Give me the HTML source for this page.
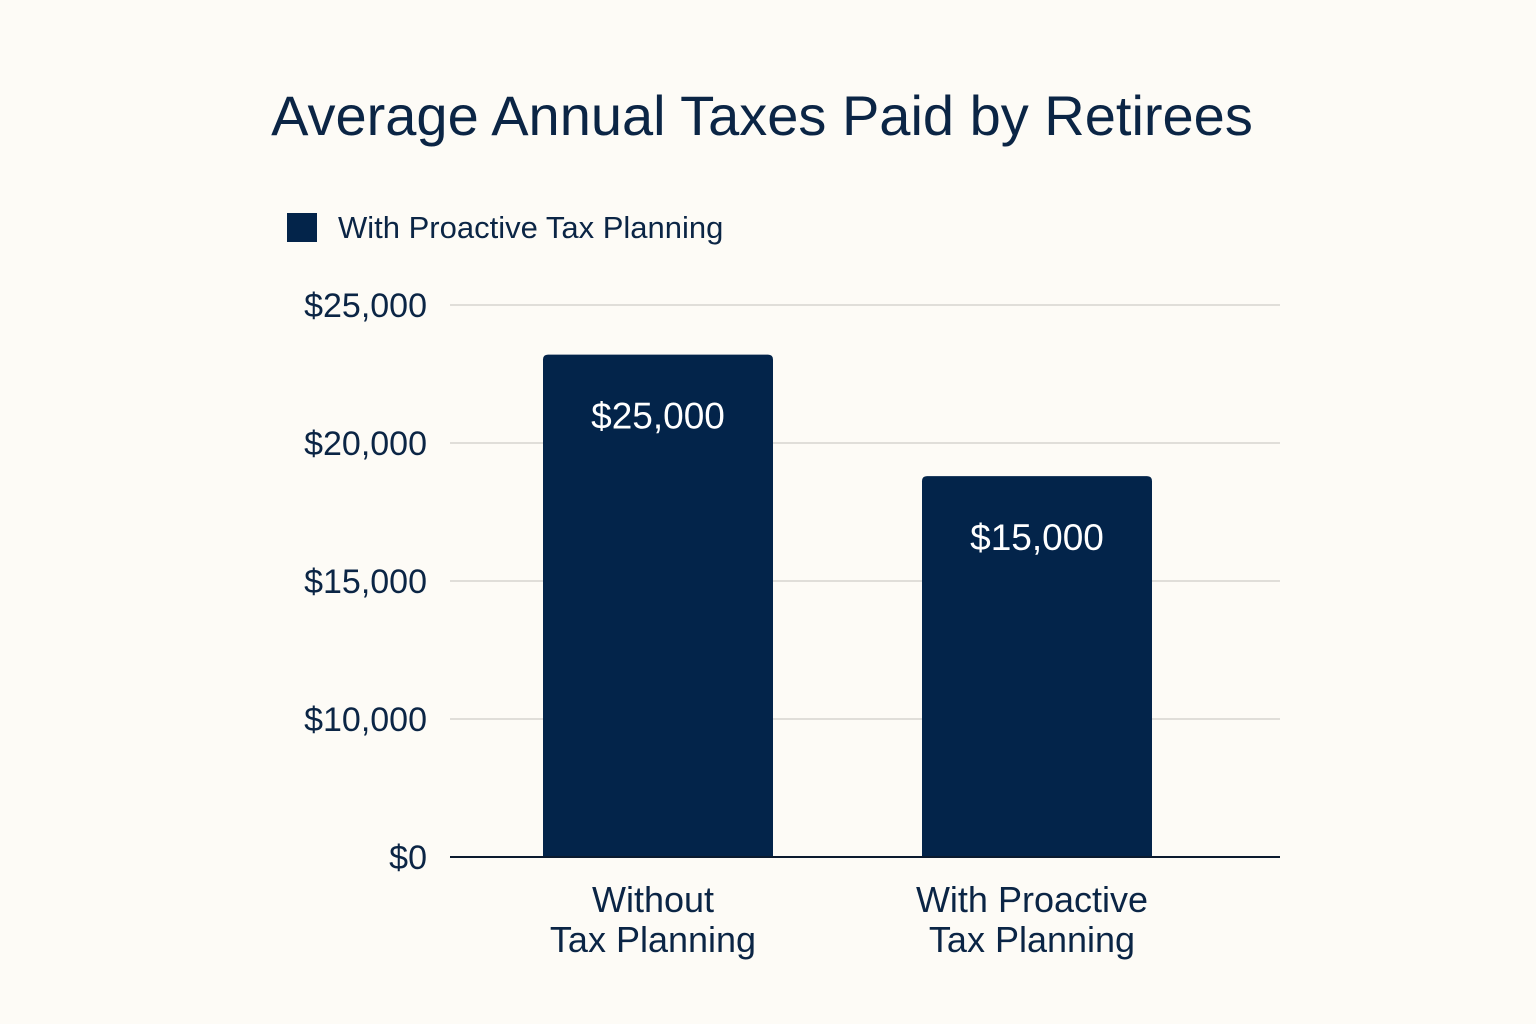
<!DOCTYPE html>
<html><head><meta charset="utf-8"><style>
html,body{margin:0;padding:0;background:#fdfbf6;}
svg{display:block;font-family:"Liberation Sans",sans-serif;}
</style></head><body>
<svg id="chart" width="1536" height="1024" viewBox="0 0 1536 1024">
<rect x="0" y="0" width="1536" height="1024" fill="#fdfbf6"/>
<text x="762" y="135" text-anchor="middle" font-size="56" fill="#0b2545">Average Annual Taxes Paid by Retirees</text>
<g>
<rect x="287" y="213" width="30" height="29" fill="#03244a"/>
<text x="338" y="238" font-size="31" fill="#0b2545">With Proactive Tax Planning</text>
</g>
<g id="grid"></g><g id="bars"></g><g id="labels"></g>
</svg>
<script>
const categories = ["Without|Tax Planning", "With Proactive|Tax Planning"];
const barValues = [23200, 18800];
const valueLabels = ["$25,000", "$15,000"];
const tickValues = [0, 10000, 15000, 20000, 25000];
const tickLabels = ["$0", "$10,000", "$15,000", "$20,000", "$25,000"];

const NS = "http://www.w3.org/2000/svg";
const y0 = 857, step = 138, xL = 450, xR = 1280;
// piecewise-linear axis through equally spaced ticks
function yScale(v){
  for(let i=0;i<tickValues.length-1;i++){
    if(v<=tickValues[i+1]){
      const f=(v-tickValues[i])/(tickValues[i+1]-tickValues[i]);
      return y0-(i+f)*step;
    }
  }
  return y0-(tickValues.length-1)*step;
}
const bandW = 379, barW = 230, firstCenter = 658;
function xCenter(i){ return firstCenter + i*bandW; }
function mk(tag, attrs, parent){
  const e=document.createElementNS(NS,tag);
  for(const k in attrs) e.setAttribute(k,attrs[k]);
  parent.appendChild(e); return e;
}
const grid=document.getElementById("grid"), bars=document.getElementById("bars"), labels=document.getElementById("labels");
tickValues.forEach((v,i)=>{
  const y=yScale(v);
  if(i>0){
    const l=mk("line",{x1:xL,x2:xR,y1:y,y2:y,stroke:"#d6d4cf","stroke-width":1.5},grid);
    
    
  }
  const t=mk("text",{x:427,y:y+12,"text-anchor":"end","font-size":34,fill:"#0b2545"},grid);
  t.textContent=tickLabels[i];
  
  
});
barValues.forEach((v,i)=>{
  const cx=xCenter(i), top=yScale(v), h=y0-top;
  const r=mk("path",{d:`M${cx-barW/2},${y0}V${top+5}Q${cx-barW/2},${top} ${cx-barW/2+5},${top}H${cx+barW/2-5}Q${cx+barW/2},${top} ${cx+barW/2},${top+5}V${y0}Z`,fill:"#03244a"},bars);
  
  
  const t=mk("text",{x:cx,y:top+74,"text-anchor":"middle","font-size":37,fill:"#ffffff"},labels);
  t.textContent=valueLabels[i];
  
  
  const parts=categories[i].split("|");
  parts.forEach((p,j)=>{
    const c=mk("text",{x:cx-5,y:912+j*40,"text-anchor":"middle","font-size":36,fill:"#0b2545"},labels);
    c.textContent=p;
    
    
  });
});
const base=mk("line",{x1:xL,x2:xR,y1:y0,y2:y0,stroke:"#0b1a2e","stroke-width":2},bars);


</script>
</body></html>
